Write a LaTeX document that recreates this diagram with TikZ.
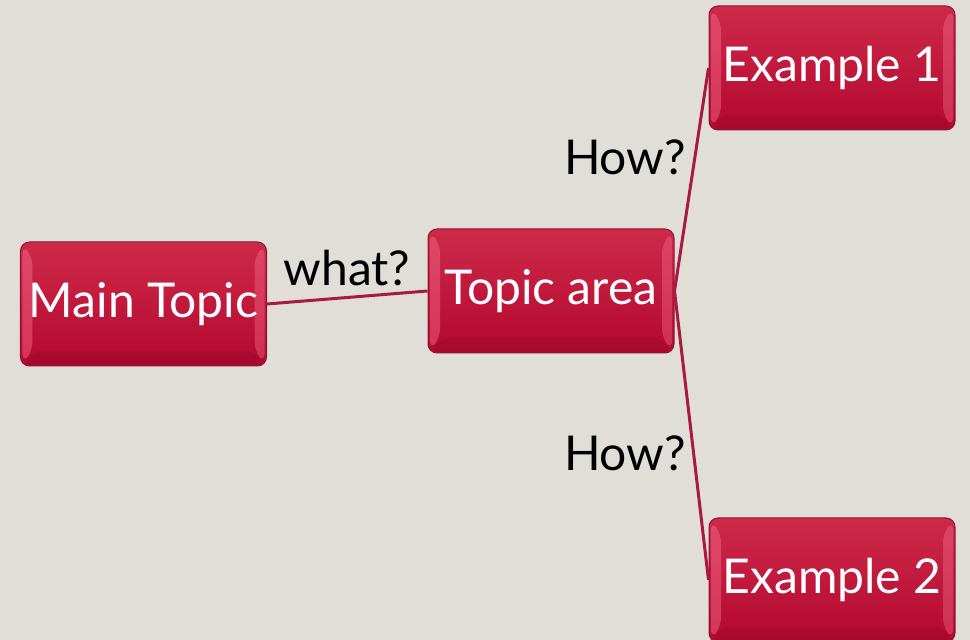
\documentclass[tikz,border=0pt]{standalone}
\usepackage{fontspec}
\setmainfont{Lato}
\usetikzlibrary{positioning}

\definecolor{paper}{RGB}{224,222,215}
\definecolor{boxtop}{RGB}{205,42,74}
\definecolor{boxbot}{RGB}{180,8,48}
\definecolor{boxedge}{RGB}{140,20,50}
\definecolor{linkred}{RGB}{168,26,64}
\definecolor{bevel}{RGB}{255,120,150}

\tikzset{
  topicbox/.style={
    minimum width=246bp, minimum height=124bp, inner sep=0pt,
    rounded corners=9bp, top color=boxtop, bottom color=boxbot,
    draw=boxedge, line width=1bp, text=white,
    font=\fontsize{48bp}{52bp}\selectfont,
    path picture={
      % bevel highlights
      \fill[bevel,opacity=0.4]
        ([xshift=2bp,yshift=3bp]path picture bounding box.south west)
        -- ++(10bp,12bp)
        -- ([xshift=12bp,yshift=-15bp]path picture bounding box.north west)
        -- ([xshift=2bp,yshift=-3bp]path picture bounding box.north west) -- cycle;
      \fill[bevel,opacity=0.35]
        ([xshift=-2bp,yshift=3bp]path picture bounding box.south east)
        -- ++(-10bp,12bp)
        -- ([xshift=-12bp,yshift=-15bp]path picture bounding box.north east)
        -- ([xshift=-2bp,yshift=-3bp]path picture bounding box.north east) -- cycle;
      \fill[black,opacity=0.07]
        ([xshift=2bp,yshift=1bp]path picture bounding box.south west)
        -- ++(10bp,14bp)
        -- ([xshift=-12bp,yshift=15bp]path picture bounding box.south east)
        -- ([xshift=-2bp,yshift=1bp]path picture bounding box.south east) -- cycle;
    }},
  asklabel/.style={text=black, inner sep=0pt,
    font=\fontsize{48bp}{52bp}\selectfont},
  link/.style={draw=linkred, line width=3bp}
}

\begin{document}
\begin{tikzpicture}[x=1bp,y=1bp]
	 \fill[paper] (0,0) rectangle (970,640);
	 \useasboundingbox (0,0) rectangle (970,640);
	 \node[topicbox] (main) at (143.5,336) {Main Topic};
	 \node[topicbox] (area) at (551,349) {Topic area};
	 \node[topicbox] (ex1)  at (832,572) {Example 1};
	 \node[topicbox] (ex2)  at (832,60)  {Example 2};
	 \draw[link] (main.east) -- (area.west);
	 \draw[link] (area.east) -- (ex1.west);
	 \draw[link] (area.east) -- (ex2.west);
	 \node[asklabel] (what) at (347,372) {what?};
	 \node[asklabel] (how1) at (625,483) {How?};
	 \node[asklabel] (how2) at (625,187) {How?};
\end{tikzpicture}
\end{document}
